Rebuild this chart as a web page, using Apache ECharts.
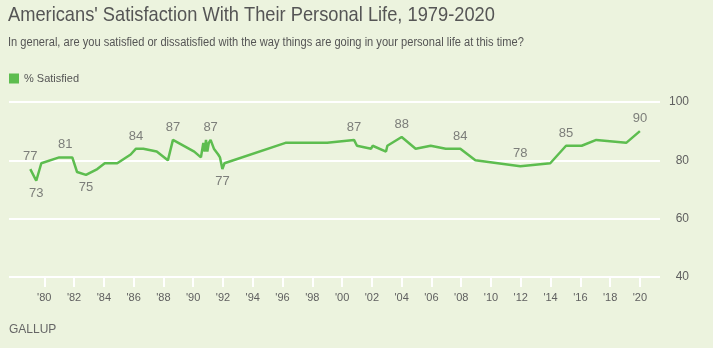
<!DOCTYPE html>
<html>
<head>
<meta charset="utf-8">
<script src="https://cdn.jsdelivr.net/npm/echarts@6/dist/echarts.min.js"></script>
<style>
html,body{margin:0;padding:0;background:#ecf3de;}
#c{width:713px;height:348px;}
</style>
</head>
<body>
<div id="c"></div>
<script>
// Survey dates (decimal years) and % satisfied
var years = [1979.06,1979.46,1979.8,1981.0,1981.4,1981.88,1982.2,1982.8,1983.56,1984.06,1984.9,1985.8,1986.16,1986.65,1987.55,1988.3,1988.64,1990.07,1990.52,1990.68,1990.77,1990.86,1990.95,1991.05,1991.17,1991.39,1991.68,1991.8,1991.96,1992.1,1996.2,1999.0,2000.8,2001.0,2001.95,2002.05,2002.95,2003.04,2004.0,2004.94,2005.95,2006.96,2007.94,2008.95,2011.97,2013.98,2015.04,2016.09,2017.07,2019.08,2020.0];
var satisfied = [77,73,79,81,81,81,76,75,77,79,79,82,84,84,83,80,87,83,81,86,83,87,83,86,87,84,82,81,77,79,86,86,87,85,84,85,83,85,88,84,85,84,84,80,78,79,85,85,87,86,90];
// Points that carry a value label, and which of those are labelled below the line
var labeledYears = [1979.06,1979.46,1981.4,1982.8,1986.16,1988.64,1991.17,1991.96,2000.8,2004.0,2007.94,2011.97,2015.04,2020.0];
var labelBelowYears = [1979.46,1982.8,1991.96];
var tickYears = [1980,1982,1984,1986,1988,1990,1992,1994,1996,1998,2000,2002,2004,2006,2008,2010,2012,2014,2016,2018,2020];
var seriesName = '% Satisfied';
var titleText = "Americans' Satisfaction With Their Personal Life, 1979-2020";
var subtitleText = 'In general, are you satisfied or dissatisfied with the way things are going in your personal life at this time?';
var sourceText = 'GALLUP';

var GREEN = '#5dbd4f';
var TEXT = '#606060';
var FONT = '"Liberation Sans", Arial, sans-serif';

var lineData = years.map(function(y, i){ return [y, satisfied[i]]; });
var labelData = [];
years.forEach(function(y, i){
  if (labeledYears.indexOf(y) >= 0) {
    var below = labelBelowYears.indexOf(y) >= 0;
    labelData.push({value:[y, satisfied[i]], label:{position: below ? 'bottom' : 'top'}});
  }
});

var chart = echarts.init(document.getElementById('c'), null, {renderer:'canvas'});
chart.setOption({
  backgroundColor:'#ecf3de',
  animation:false,
  textStyle:{fontFamily:FONT},
  legend:{
    left:4, top:68, icon:'rect', itemWidth:10, itemHeight:10, itemGap:10,
    textStyle:{fontFamily:FONT, fontSize:11, color:'#555555'},
    data:[seriesName]
  },
  graphic:[
    {type:'text', x:8, y:5, scaleX:0.87, style:{text:titleText, fontFamily:FONT, fontSize:21, fill:'#555555'}},
    {type:'text', x:8, y:37, scaleX:0.925, style:{text:subtitleText, fontFamily:FONT, fontSize:12, fill:'#555555'}},
    {type:'text', x:9, y:324, style:{text:sourceText, fontFamily:FONT, fontSize:12, fill:'#666666', letterSpacing:1.2}}
  ],
  grid:{left:9, right:53, top:102, bottom:71},
  xAxis:{
    type:'value', min:1977.63, max:2021.35,
    axisLine:{show:false},
    axisTick:{show:true, customValues:tickYears, length:10, lineStyle:{color:'#ffffff', width:2}},
    axisLabel:{customValues:tickYears, margin:15, fontFamily:FONT, fontSize:11, color:TEXT,
      formatter:function(v){ return "'" + String(Math.round(v)).slice(2); }},
    splitLine:{show:false}
  },
  yAxis:{
    type:'value', position:'right', min:40, max:100, interval:20,
    axisLine:{show:false}, axisTick:{show:false},
    axisLabel:{align:'right', margin:29, fontFamily:FONT, fontSize:12, color:TEXT},
    splitLine:{show:true, lineStyle:{color:'#ffffff', width:2}}
  },
  series:[
    {name:seriesName, type:'line', data:lineData, showSymbol:false, symbol:'none',
     color:GREEN, lineStyle:{color:GREEN, width:2.5}, z:3, silent:true},
    {name:'labels', type:'scatter', data:labelData, symbolSize:0, silent:true, z:4,
     label:{show:true, distance:6, fontFamily:FONT, fontSize:13, color:TEXT,
       formatter:function(p){ return p.value[1]; }}}
  ]
});
</script>
</body>
</html>
